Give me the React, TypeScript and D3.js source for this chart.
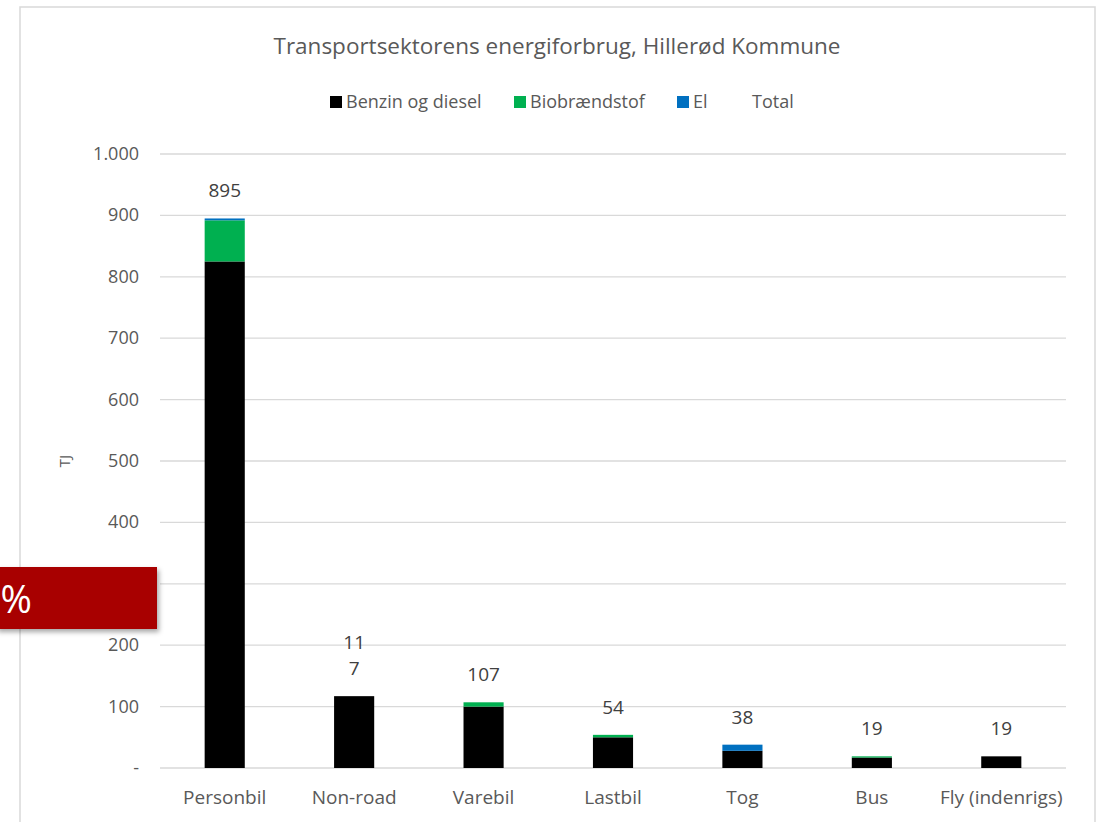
import React from 'react';
import * as d3 from 'd3';

const categories = ['Personbil', 'Non-road', 'Varebil', 'Lastbil', 'Tog', 'Bus', 'Fly (indenrigs)'];
const benzinDiesel = [825, 117, 100, 50, 28, 17, 19];
const biobraendstof = [67, 0, 7, 4, 0, 2, 0];
const el = [3, 0, 0, 0, 10, 0, 0];
const totalLabels = ['895', '11\n7', '107', '54', '38', '19', '19'];
const yTicks = [0, 100, 200, 300, 400, 500, 600, 700, 800, 900, 1000];
const seriesNames = ['Benzin og diesel', 'Biobrændstof', 'El', 'Total'];
const seriesColors = ['#000000', '#00b050', '#0070c0', 'none'];

const W = 1107;
const H = 822;
const font = "'Open Sans', sans-serif";
const textColor = '#595959';

const App = () => {
  const plot = { left: 160, right: 1066, top: 154, bottom: 768 };

  const x = d3.scaleBand<string>()
    .domain(categories)
    .range([plot.left, plot.right])
    .paddingInner(0.69)
    .paddingOuter(0.345);

  const y = d3.scaleLinear().domain([0, 1000]).range([plot.bottom, plot.top]);

  // stack the three energy series
  const rows = categories.map((c, i) => ({
    cat: c,
    b: benzinDiesel[i],
    bio: biobraendstof[i],
    el: el[i],
  }));
  const stack = d3.stack<any>().keys(['b', 'bio', 'el'])(rows);

  const fmt = (v: number) => (v === 0 ? '-' : d3.format(',')(v).replace(/,/g, '.'));

  // legend layout
  const legendX = [330, 514, 677, 752];

  return (
    <svg width={W} height={H} style={{ position: 'absolute', left: 0, top: 0, background: '#fff' }}>
      <defs>
        <filter id="shadow" x="-10%" y="-20%" width="130%" height="160%">
          <feDropShadow dx="2" dy="3" stdDeviation="2.5" floodColor="#000" floodOpacity="0.35" />
        </filter>
      </defs>

      {/* chart frame */}
      <rect x={20} y={7} width={1075} height={H} fill="#fff" stroke="#d9d9d9" strokeWidth={1.5} />

      <text x={557} y={54} textAnchor="middle" fontFamily={font} fontSize={22.5} fill={textColor}>
        Transportsektorens energiforbrug, Hillerød Kommune
      </text>

      {/* legend */}
      {seriesNames.map((name, i) => (
        <g key={name}>
          {seriesColors[i] !== 'none' && (
            <rect x={legendX[i]} y={96} width={12} height={12} fill={seriesColors[i]} />
          )}
          <text
            x={seriesColors[i] !== 'none' ? legendX[i] + 16 : legendX[i]}
            y={108}
            fontFamily={font}
            fontSize={18}
            fill={textColor}
          >
            {name}
          </text>
        </g>
      ))}

      {/* gridlines + y ticks */}
      {yTicks.map((t) => (
        <g key={t}>
          <line x1={plot.left} x2={plot.right} y1={y(t)} y2={y(t)} stroke="#d9d9d9" strokeWidth={1.3} />
          <text x={139} y={y(t) + 6} textAnchor="end" fontFamily={font} fontSize={18} fill={textColor}>
            {fmt(t)}
          </text>
        </g>
      ))}

      <text
        transform={`translate(70,${(plot.top + plot.bottom) / 2}) rotate(-90)`}
        textAnchor="middle"
        fontFamily={font}
        fontSize={15}
        fill={textColor}
      >
        TJ
      </text>

      {/* bars */}
      {stack.map((s, si) => (
        <g key={si} fill={seriesColors[si]}>
          {s.map((d, i) =>
            d[1] - d[0] > 0 ? (
              <rect
                key={i}
                x={x(categories[i])}
                y={y(d[1])}
                width={x.bandwidth()}
                height={y(d[0]) - y(d[1])}
              />
            ) : null
          )}
        </g>
      ))}

      {/* total labels */}
      {categories.map((c, i) => {
        const total = benzinDiesel[i] + biobraendstof[i] + el[i];
        const lines = totalLabels[i].split('\n');
        const cx = (x(c) as number) + x.bandwidth() / 2;
        const baseY = y(total) - 21;
        return (
          <text key={c} x={cx} textAnchor="middle" fontFamily={font} fontSize={19} fill="#404040">
            {lines.map((l, li) => (
              <tspan key={li} x={cx} y={baseY - (lines.length - 1 - li) * 26}>
                {l}
              </tspan>
            ))}
          </text>
        );
      })}

      {/* category axis labels */}
      {categories.map((c) => (
        <text
          key={c}
          x={(x(c) as number) + x.bandwidth() / 2}
          y={804}
          textAnchor="middle"
          fontFamily={font}
          fontSize={19}
          fill={textColor}
        >
          {c}
        </text>
      ))}

      {/* red overlay box */}
      <g filter="url(#shadow)">
        <rect x={-4} y={567} width={161} height={62} fill="#a80000" />
      </g>
      <text x={32} y={613} textAnchor="end" fontFamily={font} fontSize={38} fill="#fff">
        %
      </text>
    </svg>
  );
};

export default App;
